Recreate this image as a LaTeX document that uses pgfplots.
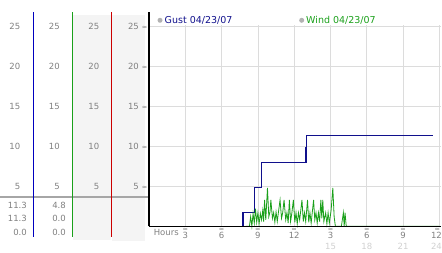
\documentclass[border=0pt]{standalone}
\usepackage{pgfplots}
\pgfplotsset{compat=1.18}
\usepackage{fontspec}
\setmainfont{DejaVu Sans}
\definecolor{gustc}{HTML}{10108C}
\colorlet{gustl}{blue!75!black}
\definecolor{windc}{HTML}{1AA01A}
\colorlet{redc}{red!80!black}
\definecolor{txtg}{HTML}{808080}
\definecolor{ltg}{HTML}{D0D0D0}
\definecolor{gridc}{HTML}{DCDCDC}
\definecolor{panel}{HTML}{F4F4F4}
\newcommand\sym{{\fontsize{6.5}{6.5}\selectfont\color{gray}≈}}
\newcommand\fs{\fontsize{8.5}{10}\selectfont}
\newcommand\fl{\fontsize{9.5}{11}\selectfont}
\begin{document}
\begin{tikzpicture}
\path[use as bounding box] (0,0) rectangle (442pt,253pt);
\begin{scope}[x=1pt,y=1pt]
% panels
\fill[panel] (73,13) rectangle (111,238);
\fill[panel] (112,12) rectangle (145,238);
\draw[line width=1.8pt, color=gray!70] (0,56.3) -- (148,56.3);
\draw[draw=gustl, line width=1.5pt] (33.5,16) -- (33.5,241);
\draw[draw=windc, line width=1.5pt] (72.5,16) -- (72.5,241);
\draw[draw=redc, line width=1.5pt] (111.5,16) -- (111.5,241);
\draw[black, line width=1.3pt] (149,27) -- (149,241);
\foreach \v/\p in {25/26.7,20/66.7,15/106.7,10/146.7,5/186.7}{
  \node[anchor=east, inner sep=0pt, text=txtg, font=\fs] at (20.5,253-\p) {\v};
  \node[anchor=east, inner sep=0pt, text=txtg, font=\fs] at (60,253-\p) {\v};
  \node[anchor=east, inner sep=0pt, text=txtg, font=\fs] at (99.5,253-\p) {\v};
}
\node[anchor=east, inner sep=0pt, text=txtg, font=\fs] at (27,253-205) {11.3};
\node[anchor=east, inner sep=0pt, text=txtg, font=\fs] at (27,253-218.5) {11.3};
\node[anchor=east, inner sep=0pt, text=txtg, font=\fs] at (27,253-232.5) {0.0};
\node[anchor=east, inner sep=0pt, text=txtg, font=\fs] at (66,253-205) {4.8};
\node[anchor=east, inner sep=0pt, text=txtg, font=\fs] at (66,253-218.5) {0.0};
\node[anchor=east, inner sep=0pt, text=txtg, font=\fs] at (66,253-232.5) {0.0};
% legend
\fill[gray!60] (160,253-20.3) circle (2.5);
\node[anchor=west, inner sep=0pt, text=gustc, font=\fl] at (164.5,253-20.3) {Gust 04/23/07};
\fill[gray!60] (301.7,253-20.3) circle (2.5);
\node[anchor=west, inner sep=0pt, text=windc, font=\fl] at (306,253-20.3) {Wind 04/23/07};
\node[inner sep=0pt, text=txtg, font=\fs] at (166.3,253-232) {Hours};
\end{scope}
\begin{axis}[
  at={(149pt,26.7pt)}, anchor=south west,
  scale only axis, width=292pt, height=201.3pt,
  xmin=0, xmax=24.13, ymin=0, ymax=25.16,
  axis x line=bottom, axis y line=left,
  axis line style={-, black, line width=1.3pt},
  xtick={3,6,9,12,15,18,21,24},
  xticklabels={3,6,9,12,3,6,9,{\kern-6pt 12}},
  ytick={5,10,15,20,25},
  yticklabels={{5\hspace{3pt}\sym},{10\hspace{3pt}\sym},{15\hspace{3pt}\sym},{20\hspace{3pt}\sym},{25\hspace{3pt}\sym}},
  major tick length=0pt,
  grid=major, major grid style={gridc, line width=0.8pt},
  xticklabel style={font=\fs, text=txtg, inner sep=0pt, anchor=center, yshift=-9.5pt},
  yticklabel style={font=\fs, text=txtg, inner sep=0pt, anchor=east, xshift=-1.5pt},
  clip=false,
]
\addplot[const plot, gustc, line width=1.1pt] coordinates {
 (0,0) (7.77,1.7) (8.7,4.8) (9.27,8.0) (12.97,9.8) (13.05,11.3) (23.5,11.3)
};
\addplot[windc, line width=0.8pt] coordinates {
 (8.0,0) (8.3,0) (8.4,1.2) (8.5,0) (8.6,1.6) (8.7,0.4) (8.8,2.2) (8.9,0.5)
 (9.0,1.7) (9.1,0.3) (9.2,1.6) (9.3,0.8) (9.4,2.0) (9.47,0.6) (9.55,3.3)
 (9.65,0.8) (9.79,4.8) (9.9,1.2) (10.0,1.8) (10.07,3.3) (10.2,1.0) (10.3,1.7)
 (10.4,0.5) (10.5,1.8) (10.6,0.6) (10.7,1.8) (10.83,3.3) (10.95,1.0) (11.05,1.7)
 (11.16,3.3) (11.3,0.8) (11.4,1.7) (11.5,0.4) (11.6,3.3) (11.7,0.6) (11.8,1.6)
 (11.93,3.3) (12.05,0.5) (12.15,1.7) (12.25,0.3) (12.35,1.7) (12.45,0.8)
 (12.64,3.3) (12.75,0.6) (12.85,1.7) (12.95,0.6) (13.1,3.3) (13.2,0.5)
 (13.3,1.7) (13.4,0.4) (13.6,3.3) (13.7,0.8) (13.8,1.7) (13.9,0.4) (14.0,1.7)
 (14.1,0.6) (14.2,3.3) (14.28,1.0) (14.36,3.3) (14.45,0.6) (14.6,1.7) (14.7,0.3)
 (14.8,1.7) (14.9,0.4) (15.05,2.0) (15.19,4.8) (15.3,1.2) (15.4,0) (15.9,0)
 (16.06,1.7) (16.13,0) (16.2,1.7) (16.3,0) (24,0)
};
\draw[black, line width=1.3pt] (axis cs:0,0) -- (axis cs:24.13,0);
\pgfplotsinvokeforeach{3,6,9,12,15,18,21}{
  \node[inner sep=0pt] at (axis cs:#1,0) [yshift=-3.2pt] {\sym};
}
\node[inner sep=0pt] at (axis cs:24,0) [yshift=-3.2pt, xshift=-2pt] {\sym};
\pgfplotsinvokeforeach{15,18,21}{
  \node[inner sep=0pt, font=\fs, text=ltg] at (axis cs:#1,0) [yshift=-20pt] {#1};
}
\node[inner sep=0pt, font=\fs, text=ltg] at (axis cs:24,0) [yshift=-20pt, xshift=-3pt] {24};
\end{axis}
\end{tikzpicture}
\end{document}
